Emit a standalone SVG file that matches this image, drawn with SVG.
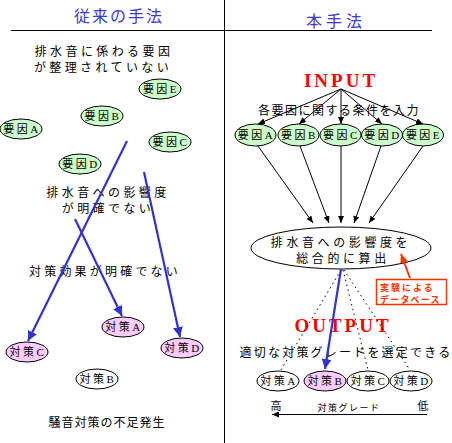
<svg xmlns="http://www.w3.org/2000/svg" width="452" height="443" viewBox="0 0 452 443">
<style>
.t{font-family:"Noto Sans CJK JP",sans-serif;font-size:12px;fill:#000;text-anchor:middle}
.lbl{font-family:"Liberation Serif","Noto Sans CJK JP",serif;font-size:11px;fill:#000;text-anchor:middle;letter-spacing:2.5px}
.g{fill:#ccffcc;stroke:#000;stroke-width:1}
.p{fill:#ffccff;stroke:#000;stroke-width:1}
.w{fill:#fff;stroke:#000;stroke-width:1}
.title{font-family:"Noto Sans CJK JP",sans-serif;font-size:16px;fill:#3a3ad0;text-anchor:middle}
.red{font-family:"Liberation Serif",serif;font-weight:bold;font-size:19px;fill:#ff0000;text-anchor:middle;letter-spacing:3px}
.bl{stroke:#3333cc;stroke-width:2.2;fill:none}
.k{stroke:#000;stroke-width:1;fill:none}
.dot{stroke:#000;stroke-width:1;fill:none;stroke-dasharray:1.5 3.5}
.db{font-family:"Noto Sans CJK JP",sans-serif;font-size:9px;font-weight:bold;fill:#ff3300}
</style>
<defs>
<marker id="ab" markerUnits="userSpaceOnUse" markerWidth="12" markerHeight="10" refX="10" refY="5" orient="auto"><path d="M0,0 L10,5 L0,10 z" fill="#3333cc"/></marker>
<marker id="ak" markerUnits="userSpaceOnUse" markerWidth="8" markerHeight="6" refX="7" refY="3" orient="auto"><path d="M0,0 L7,3 L0,6 z" fill="#000"/></marker>
<marker id="ar" markerUnits="userSpaceOnUse" markerWidth="10" markerHeight="8" refX="9" refY="4" orient="auto"><path d="M0,0 L9,4 L0,8 z" fill="#ff3300"/></marker>
</defs>
<rect width="452" height="443" fill="#fff"/>
<g id="frame">
<line x1="224.5" y1="0" x2="224.5" y2="443" stroke="#000" stroke-width="1"/>
<line x1="11" y1="30.5" x2="432" y2="30.5" stroke="#000" stroke-width="1"/>
<text class="title" x="119" y="22" style="letter-spacing:2px">従来の手法</text>
<text class="title" x="336" y="27" style="letter-spacing:4px">本手法</text>
</g>
<g id="left-texts">
<text class="t" x="104" y="56" style="letter-spacing:3.4px">排水音に係わる要因</text>
<text class="t" x="103" y="72" style="letter-spacing:3.4px">が整理されていない</text>
<text class="t" x="108" y="197" style="letter-spacing:3.4px">排水音への影響度</text>
<text class="t" x="108" y="213" style="letter-spacing:3.4px">が明確でない</text>
<text class="t" x="105" y="276" style="letter-spacing:3.2px">対策効果が明確でない</text>
<text class="t" x="107" y="427" style="letter-spacing:1px">騒音対策の不足発生</text>
</g>
<g id="left-factors">
<g id="lfE"><ellipse class="g" cx="160" cy="89" rx="21" ry="10"/><text class="lbl" x="161" y="93">要因E</text></g>
<g id="lfB"><ellipse class="g" cx="102" cy="116" rx="21" ry="10"/><text class="lbl" x="103" y="120">要因B</text></g>
<g id="lfA"><ellipse class="g" cx="21" cy="129" rx="21" ry="10"/><text class="lbl" x="22" y="133">要因A</text></g>
<g id="lfC"><ellipse class="g" cx="170" cy="142" rx="21" ry="10"/><text class="lbl" x="171" y="146">要因C</text></g>
<g id="lfD"><ellipse class="g" cx="80" cy="164" rx="21" ry="10"/><text class="lbl" x="81" y="168">要因D</text></g>
</g>
<g id="left-measures">
<g id="lmA"><ellipse class="p" cx="123" cy="327" rx="21" ry="10"/><text class="lbl" x="124" y="331">対策A</text></g>
<g id="lmC"><ellipse class="p" cx="27" cy="352" rx="21" ry="10"/><text class="lbl" x="28" y="356">対策C</text></g>
<g id="lmD"><ellipse class="p" cx="182" cy="348" rx="21" ry="10"/><text class="lbl" x="183" y="352">対策D</text></g>
<g id="lmB"><ellipse class="w" cx="97" cy="379" rx="21" ry="10"/><text class="lbl" x="98" y="383">対策B</text></g>
</g>
<g id="right-texts">
<text class="red" x="341" y="87">INPUT</text>
<text class="t" x="339" y="115" style="letter-spacing:1.5px">各要因に関する条件を入力</text>
<text class="red" x="343" y="332">OUTPUT</text>
<text class="t" x="346" y="357" style="letter-spacing:2.2px">適切な対策グレードを選定できる</text>
</g>
<g id="right-factors">
<g id="rfA"><ellipse class="g" cx="255.5" cy="135" rx="20.5" ry="11"/><text class="lbl" x="256.5" y="139">要因A</text></g>
<g id="rfB"><ellipse class="g" cx="298.5" cy="135" rx="20.5" ry="11"/><text class="lbl" x="299.5" y="139">要因B</text></g>
<g id="rfC"><ellipse class="g" cx="340.5" cy="135" rx="20.5" ry="11"/><text class="lbl" x="341.5" y="139">要因C</text></g>
<g id="rfD"><ellipse class="g" cx="382" cy="135" rx="20.5" ry="11"/><text class="lbl" x="383" y="139">要因D</text></g>
<g id="rfE"><ellipse class="g" cx="423" cy="135" rx="20.5" ry="11"/><text class="lbl" x="424" y="139">要因E</text></g>
</g>
<g id="calc">
<ellipse class="w" cx="341" cy="248" rx="90" ry="21"/>
<text class="t" x="341" y="247" style="letter-spacing:3.6px">排水音への影響度を</text>
<text class="t" x="343" y="263" style="letter-spacing:3.6px">総合的に算出</text>
</g>
<g id="database">
<rect x="376.5" y="279.5" width="70" height="25" fill="#fff" stroke="#ff3300" stroke-width="1.5"/>
<text class="db" x="380" y="291" style="letter-spacing:2px">実験による</text>
<text class="db" x="380" y="302.5" style="letter-spacing:1.2px">データベース</text>
</g>
<g id="right-measures">
<g id="rmA"><ellipse class="w" cx="278" cy="381" rx="21" ry="10"/><text class="lbl" x="279" y="385">対策A</text></g>
<g id="rmB"><ellipse class="p" cx="325" cy="381" rx="21" ry="10"/><text class="lbl" x="326" y="385">対策B</text></g>
<g id="rmC"><ellipse class="w" cx="368" cy="381" rx="21" ry="10"/><text class="lbl" x="369" y="385">対策C</text></g>
<g id="rmD"><ellipse class="w" cx="411" cy="381" rx="21" ry="10"/><text class="lbl" x="412" y="385">対策D</text></g>
</g>
<g id="scale">
<text x="276" y="410" style="font-family:'Noto Sans CJK JP',sans-serif;font-size:11px;text-anchor:middle">高</text>
<text x="423" y="410" style="font-family:'Noto Sans CJK JP',sans-serif;font-size:11px;text-anchor:middle">低</text>
<text x="349" y="411" style="font-family:'Noto Sans CJK JP',sans-serif;font-size:9px;text-anchor:middle;letter-spacing:1.5px">対策グレード</text>
</g>
<g id="connectors">
<line class="bl" x1="127" y1="141" x2="28" y2="341" marker-end="url(#ab)"/>
<line class="bl" x1="75" y1="219" x2="122" y2="316" marker-end="url(#ab)"/>
<line class="bl" x1="144" y1="172" x2="180" y2="337" marker-end="url(#ab)"/>
<line class="k" x1="341" y1="89" x2="258" y2="124" marker-end="url(#ak)"/>
<line class="k" x1="341" y1="89" x2="299" y2="124" marker-end="url(#ak)"/>
<line class="k" x1="341" y1="89" x2="341" y2="124" marker-end="url(#ak)"/>
<line class="k" x1="341" y1="89" x2="382" y2="124" marker-end="url(#ak)"/>
<line class="k" x1="341" y1="89" x2="423" y2="124" marker-end="url(#ak)"/>
<line class="k" x1="258" y1="146" x2="313" y2="223" marker-end="url(#ak)"/>
<line class="k" x1="300" y1="146" x2="329" y2="223" marker-end="url(#ak)"/>
<line class="k" x1="341" y1="146" x2="341" y2="223" marker-end="url(#ak)"/>
<line class="k" x1="381" y1="146" x2="354" y2="223" marker-end="url(#ak)"/>
<line class="k" x1="423" y1="146" x2="369" y2="223" marker-end="url(#ak)"/>
<line class="dot" x1="341" y1="270" x2="281" y2="370"/>
<line class="dot" x1="343" y1="270" x2="368" y2="370"/>
<line class="dot" x1="344" y1="270" x2="410" y2="370"/>
<line class="bl" x1="341" y1="269" x2="325" y2="369" marker-end="url(#ab)"/>
<line x1="410" y1="278" x2="401" y2="254" stroke="#ff3300" stroke-width="2" marker-end="url(#ar)"/>
<line class="k" x1="427" y1="414.5" x2="272" y2="414.5" marker-end="url(#ak)"/>
</g>
</svg>
